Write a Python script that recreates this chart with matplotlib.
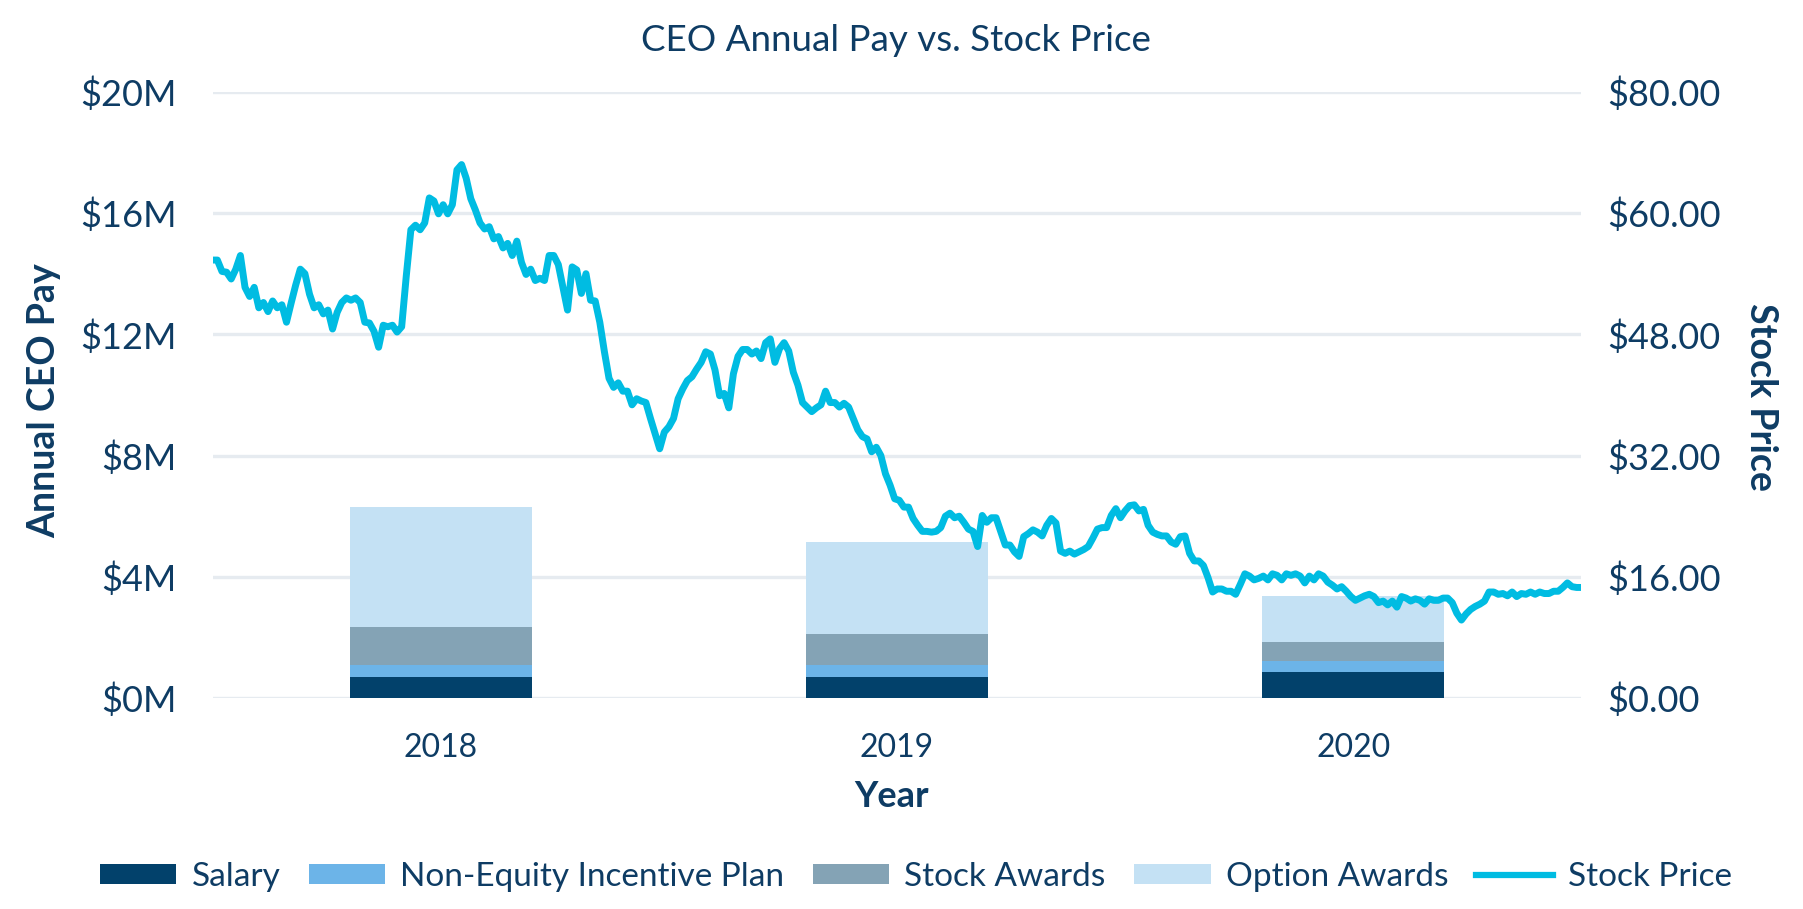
import numpy as np
import matplotlib.pyplot as plt
from matplotlib.patches import Patch
from matplotlib.lines import Line2D

plt.rcParams['font.family'] = ['Lato', 'DejaVu Sans']

navy = '#0E3C64'

# Annual CEO pay components ($M)
years = ['2018', '2019', '2020']
salary = [0.70, 0.71, 0.85]
non_equity = [0.38, 0.38, 0.37]
stock_awards = [1.28, 1.02, 0.63]
option_awards = [3.93, 3.05, 1.53]

# stock price, evenly spaced samples from start of 2018 to end of 2020 ($)
stock_price = [
    57.8, 57.8, 56.3, 56.2, 55.3, 56.6, 58.4, 54.2, 53.0, 54.2,
    51.5, 52.2, 51.0, 52.4, 51.5, 51.9, 49.6, 52.1, 54.5, 56.6,
    56.0, 53.3, 51.5, 51.9, 50.7, 51.2, 48.7, 50.9, 52.2, 52.8,
    52.5, 52.8, 52.2, 49.6, 49.5, 48.4, 46.3, 49.2, 49.0, 49.2,
    48.3, 49.0, 55.7, 61.8, 62.4, 61.8, 62.7, 66.0, 65.6, 63.9,
    65.1, 63.9, 65.1, 69.7, 70.4, 68.6, 65.9, 64.4, 62.7, 61.9,
    62.2, 60.6, 60.9, 59.4, 60.0, 58.4, 60.3, 57.5, 55.9, 56.6,
    55.1, 55.4, 55.1, 58.4, 58.4, 57.2, 54.2, 51.2, 56.9, 56.5,
    53.4, 56.0, 52.5, 52.4, 49.6, 45.7, 42.2, 41.0, 41.6, 40.5,
    40.5, 38.7, 39.5, 39.2, 39.0, 36.9, 34.9, 32.9, 35.1, 35.8,
    36.9, 39.5, 40.8, 41.9, 42.4, 43.4, 44.3, 45.7, 45.4, 43.3,
    39.9, 40.2, 38.3, 42.8, 45.1, 46.0, 46.0, 45.4, 45.8, 44.8,
    46.9, 47.4, 44.3, 46.1, 46.9, 45.8, 43.0, 41.3, 39.0, 38.4,
    37.8, 38.3, 38.7, 40.5, 39.0, 39.0, 38.4, 38.9, 38.4, 36.9,
    35.4, 34.5, 34.2, 32.5, 33.1, 32.0, 29.6, 28.1, 26.3, 26.1,
    25.2, 25.2, 23.7, 22.8, 22.0, 22.0, 21.9, 22.0, 22.5, 24.0,
    24.4, 23.8, 24.0, 23.2, 22.3, 22.0, 20.0, 24.1, 23.2, 23.8,
    23.8, 22.0, 20.2, 20.2, 19.3, 18.7, 21.3, 21.7, 22.2, 21.9,
    21.4, 22.8, 23.7, 23.1, 19.4, 19.1, 19.4, 19.0, 19.3, 19.6,
    20.0, 21.1, 22.3, 22.5, 22.5, 24.1, 25.0, 23.8, 24.7, 25.4,
    25.5, 24.7, 24.9, 22.8, 21.9, 21.6, 21.4, 21.4, 20.6, 20.3,
    21.3, 21.4, 19.1, 18.1, 18.1, 17.5, 15.9, 14.0, 14.4, 14.4,
    14.1, 14.1, 13.7, 15.0, 16.4, 16.1, 15.6, 15.8, 16.1, 15.6,
    16.4, 16.2, 15.6, 16.4, 16.2, 16.4, 16.1, 15.2, 16.1, 15.6,
    16.4, 16.1, 15.3, 14.9, 14.4, 14.7, 14.1, 13.4, 12.9, 13.2,
    13.5, 13.7, 13.4, 12.6, 12.8, 12.3, 12.8, 12.0, 13.4, 13.2,
    12.8, 13.1, 12.9, 12.4, 13.1, 12.9, 12.9, 13.2, 13.2, 12.6,
    11.2, 10.3, 11.1, 11.7, 12.1, 12.4, 12.8, 14.0, 14.0, 13.7,
    13.8, 13.5, 14.0, 13.4, 13.8, 13.7, 14.0, 13.7, 14.0, 13.8,
    13.8, 14.1, 14.1, 14.6, 15.2, 14.7, 14.6, 14.6,
]

pay_ticks = [0, 4, 8, 12, 16, 20]
price_ticks = [0, 16, 32, 48, 64, 80]
price_labels = ['$0.00', '$16.00', '$32.00', '$48.00', '$60.00', '$80.00']

components = [
    ('Salary', salary, '#02416B'),
    ('Non-Equity Incentive Plan', non_equity, '#6CB4E8'),
    ('Stock Awards', stock_awards, '#84A3B5'),
    ('Option Awards', option_awards, '#C4E1F4'),
]
line_color = '#00BCE2'

fig = plt.figure(figsize=(18.03, 9.09), dpi=100)
ax = fig.add_axes([0.118, 0.232, 0.759, 0.667])
ax2 = ax.twinx()

x = np.arange(len(years))
bottom = np.zeros(len(years))
handles = []
for name, vals, col in components:
    ax.bar(x, vals, width=0.4, bottom=bottom, color=col, zorder=2)
    bottom += np.array(vals)
    handles.append(Patch(facecolor=col, label=name))

t = np.linspace(-0.5, 2.5, len(stock_price))
ax2.plot(t, stock_price, color=line_color, lw=5, solid_joinstyle='round',
         solid_capstyle='round', zorder=3)
handles.append(Line2D([0], [0], color=line_color, lw=4.5, label='Stock Price'))

ax.set_xlim(-0.5, 2.5)
ax.set_ylim(0, 20)
ax2.set_ylim(0, 80)

ax.set_yticks(pay_ticks)
ax.set_yticklabels([f'${v}M' for v in pay_ticks])
ax2.set_yticks(price_ticks)
ax2.set_yticklabels(price_labels)
ax.set_xticks(x)
ax.set_xticklabels(years)

ax.tick_params(axis='y', length=0, pad=26, labelsize=26, labelcolor=navy)
ax.tick_params(axis='x', length=0, pad=25, labelsize=23, labelcolor=navy)
ax2.tick_params(axis='y', length=0, pad=19, labelsize=26, labelcolor=navy)

ax.yaxis.grid(True, color='#E6EBF0', lw=2.4)
ax.set_axisbelow(True)
for a in (ax, ax2):
    for s in a.spines.values():
        s.set_visible(False)

ax.text(-0.1235, 0.49, 'Annual CEO Pay', transform=ax.transAxes, rotation=90,
        ha='center', va='center', fontsize=27, fontweight='bold', color=navy)
ax.text(1.131, 0.497, 'Stock Price', transform=ax.transAxes, rotation=-90,
        ha='center', va='center', fontsize=27, fontweight='bold', color=navy)
ax.text(0.496, -0.163, 'Year', transform=ax.transAxes,
        ha='center', va='center', fontsize=26, fontweight='bold', color=navy)

fig.text(0.497, 0.955, 'CEO Annual Pay vs. Stock Price', ha='center', va='center',
         fontsize=26.5, color=navy)

fig.legend(handles=handles, loc='center', bbox_to_anchor=(0.508, 0.035), ncol=5,
           frameon=False, fontsize=24, handlelength=2.3, handleheight=0.55,
           handletextpad=0.45, columnspacing=0.85, labelcolor=navy)

fig.savefig('out.png', dpi=100)
plt.close(fig)
